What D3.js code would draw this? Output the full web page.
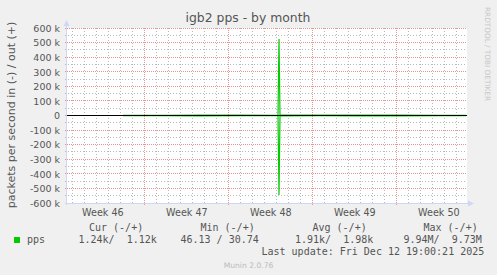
<!DOCTYPE html>
<html><head><meta charset="utf-8">
<script src="https://cdn.jsdelivr.net/npm/d3@7"></script>
<style>
html,body{margin:0;padding:0;background:#F0F0F0;}
svg{display:block;}
text{font-family:"DejaVu Sans",sans-serif;}
.mono{font-family:"DejaVu Sans Mono",monospace;}
</style></head>
<body>
<script>
// ---- data ----
const title = "igb2 pps - by month";
const yLabel = "packets per second in (-) / out (+)";
const timeDomain = ["2025-11-09T13:20:00Z", "2025-12-12T21:20:00Z"];
const times = ["2025-11-14T05:20:00Z","2025-11-17T10:00:00Z","2025-11-20T16:00:00Z","2025-11-24T02:00:00Z",
  "2025-11-27T03:20:00Z","2025-11-27T05:20:00Z","2025-11-27T07:20:00Z","2025-11-30T12:00:00Z",
  "2025-12-03T20:00:00Z","2025-12-07T08:00:00Z","2025-12-10T14:00:00Z","2025-12-12T19:20:00Z"];
const outValues = [1120, 1850, 2010, 1940, 1760, 524000, 2080, 1930, 1990, 2040, 1870, 1120];
const inValues  = [1240, 1780, 1920, 1880, 1690, 545000, 1950, 1860, 1900, 1960, 1810, 1240];
const yTickValues = [600000,500000,400000,300000,200000,100000,0,-100000,-200000,-300000,-400000,-500000,-600000];
const yTickLabels = ["600 k","500 k","400 k","300 k","200 k","100 k","0","-100 k","-200 k","-300 k","-400 k","-500 k","-600 k"];
const yMinorValues = [550000,450000,350000,250000,150000,50000,-50000,-150000,-250000,-350000,-450000,-550000];
const weekCenters = ["2025-11-12T12:00:00Z","2025-11-19T12:00:00Z","2025-11-26T12:00:00Z","2025-12-03T12:00:00Z","2025-12-10T12:00:00Z"];
const weekLabels = ["Week 46","Week 47","Week 48","Week 49","Week 50"];
const legendName = "pps";
const legendHeaders = ["Cur (-/+)","Min (-/+)","Avg (-/+)","Max (-/+)"];
const legendValues = ["1.24k/  1.12k","46.13 / 30.74","1.91k/  1.98k","9.94M/  9.73M"];
const lastUpdate = "Last update: Fri Dec 12 19:00:21 2025";
const watermark = "RRDTOOL / TOBI OETIKER";
const footer = "Munin 2.0.76";

// ---- layout ----
const W = 497, H = 275;
const L = 67, R = 467, T = 28, B = 203;
const svg = d3.select("body").append("svg").attr("width", W).attr("height", H);
svg.append("rect").attr("width", W).attr("height", H).attr("fill", "#F0F0F0");
svg.append("rect").attr("x", L).attr("y", T).attr("width", R - L).attr("height", B - T).attr("fill", "#FFFFFF");

const parse = d3.utcParse("%Y-%m-%dT%H:%M:%SZ");
const x = d3.scaleUtc().domain(timeDomain.map(parse)).range([L, R]);
const y = d3.scaleLinear().domain([-600000, 600000]).range([B, T]);
const crisp = v => Math.floor(v) + 0.5;

const minorCol = "#b8b8b8", majorCol = "#e89494";
const days = d3.utcDay.range(x.domain()[0], x.domain()[1]).filter(d => d.getUTCDay() !== 0);
const sundays = d3.utcSunday.range(x.domain()[0], x.domain()[1]);

const gMinor = svg.append("g").attr("class", "minor");
days.forEach(d => {
  gMinor.append("line").attr("x1", crisp(x(d))).attr("x2", crisp(x(d)))
    .attr("y1", T).attr("y2", B + 2)
    .attr("stroke", minorCol).attr("stroke-width", 1).attr("stroke-dasharray", "1 2");
});
yMinorValues.forEach(v => {
  gMinor.append("line").attr("x1", L - 2).attr("x2", R)
    .attr("y1", crisp(y(v))).attr("y2", crisp(y(v)))
    .attr("stroke", minorCol).attr("stroke-width", 1).attr("stroke-dasharray", "1 2");
});
const gMajor = svg.append("g").attr("class", "major");
sundays.forEach(d => {
  gMajor.append("line").attr("x1", crisp(x(d))).attr("x2", crisp(x(d)))
    .attr("y1", T).attr("y2", B + 3)
    .attr("stroke", majorCol).attr("stroke-dasharray", "1 1");
});
yTickValues.forEach(v => {
  gMajor.append("line").attr("x1", L - 2).attr("x2", R)
    .attr("y1", crisp(y(v))).attr("y2", crisp(y(v)))
    .attr("stroke", majorCol).attr("stroke-dasharray", "1 1");
});

// axes lines + arrows
const axisCol = "#CFD6F8";
svg.append("line").attr("x1", L - 0.5).attr("x2", L - 0.5).attr("y1", B + 2).attr("y2", T - 3).attr("stroke", axisCol);
svg.append("line").attr("x1", L - 2).attr("x2", R + 2).attr("y1", B + 0.5).attr("y2", B + 0.5).attr("stroke", axisCol);
svg.append("path").attr("d", `M${L-3.5},${T-2} L${L+2.5},${T-2} L${L-0.5},${T-8} Z`).attr("fill", axisCol);
svg.append("path").attr("d", `M${R+1},${B-2.5} L${R+1},${B+3.5} L${R+7},${B+0.5} Z`).attr("fill", axisCol);

// data
const pts = times.map((t, i) => ({t: parse(t), out: outValues[i], inn: inValues[i]}));
const lineOut = d3.line().x(d => x(d.t)).y(d => y(d.out));
const lineIn = d3.line().x(d => x(d.t)).y(d => y(-d.inn));
svg.append("path").attr("d", lineIn(pts)).attr("fill", "none").attr("stroke", "#00CC00").attr("stroke-width", 1.2);
svg.append("path").attr("d", lineOut(pts)).attr("fill", "none").attr("stroke", "#00CC00").attr("stroke-width", 1.2);
// zero rule
svg.append("line").attr("x1", L).attr("x2", R).attr("y1", crisp(y(0))).attr("y2", crisp(y(0)))
  .attr("stroke", "#000").attr("stroke-width", 1);

// y axis labels
const yAxis = d3.axisLeft(y).tickValues(yTickValues).tickSize(0).tickPadding(0)
  .tickFormat((d, i) => yTickLabels[i]);
const ya = svg.append("g").attr("transform", `translate(${L - 7},0)`).call(yAxis);
ya.select(".domain").remove();
ya.selectAll("text").attr("font-family", "DejaVu Sans").attr("font-size", "9.5px").attr("fill", "#555").attr("dy", "0.35em");

// x axis labels
const xAxis = d3.axisBottom(x).tickValues(weekCenters.map(parse)).tickSize(0).tickPadding(0)
  .tickFormat((d, i) => weekLabels[i]);
const xa = svg.append("g").attr("transform", `translate(0,${B})`).call(xAxis);
xa.select(".domain").remove();
xa.selectAll("text").attr("font-family", "DejaVu Sans").attr("font-size", "9.6px").attr("fill", "#555")
  .attr("dy", null).attr("y", 13);

// title
svg.append("text").attr("x", 248).attr("y", 22).attr("text-anchor", "middle")
  .attr("font-size", "12.4px").attr("fill", "#555").text(title);
// y label
svg.append("text").attr("transform", "translate(15,115) rotate(-90)").attr("text-anchor", "middle")
  .attr("font-size", "11px").attr("fill", "#555").text(yLabel);
// watermark
svg.append("text").attr("transform", "translate(485,54) rotate(90)").attr("text-anchor", "middle")
  .attr("font-size", "7.3px").attr("fill", "#c8c8c8").text(watermark);

// legend
const headerX = [89, 200.5, 312.5, 423.5];
const valueX = [78.5, 180.5, 295, 403.5];
legendHeaders.forEach((h, i) => {
  svg.append("text").attr("class", "mono").attr("x", headerX[i]).attr("y", 231).attr("font-size", "10px")
    .attr("fill", "#555").style("white-space", "pre").text(h);
});
svg.append("rect").attr("x", 14).attr("y", 237).attr("width", 6).attr("height", 6).attr("fill", "#00CC00");
svg.append("text").attr("class", "mono").attr("x", 27).attr("y", 243).attr("font-size", "10px").attr("fill", "#555").text(legendName);
legendValues.forEach((v, i) => {
  svg.append("text").attr("class", "mono").attr("x", valueX[i]).attr("y", 243).attr("font-size", "10px")
    .attr("fill", "#555").style("white-space", "pre").text(v);
});
svg.append("text").attr("class", "mono").attr("x", 261.5).attr("y", 255).attr("font-size", "10px")
  .attr("fill", "#555").style("white-space", "pre").text(lastUpdate);
svg.append("text").attr("x", 248.5).attr("y", 268).attr("text-anchor", "middle").attr("font-size", "7.6px")
  .attr("fill", "#bbb").text(footer);
</script>
</body></html>
